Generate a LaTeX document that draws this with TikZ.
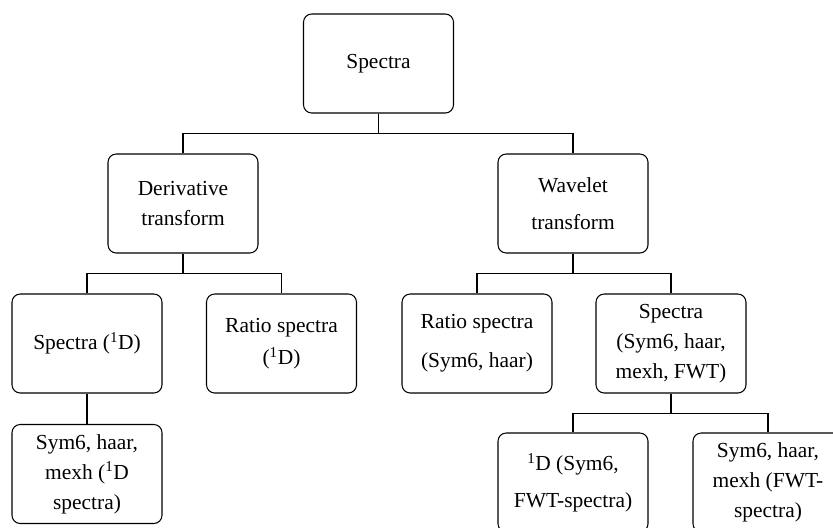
\documentclass[tikz,border=0pt]{standalone}
\usepackage{fontspec}
\setmainfont{Liberation Serif}

\begin{document}
\begin{tikzpicture}[font=\fontsize{18.3}{25.5}\selectfont,line width=0.9pt]
  \tikzset{
    box/.style={
      draw,
      rounded corners=7pt,
      align=center,
      inner sep=2pt,
      minimum width=4.5cm,
      minimum height=2.97cm
    }
  }
  \useasboundingbox (0,0) rectangle (24.99,-15.81);
  \clip (0,0) rectangle (24.99,-15.81);

  \node[box] (root) at (11.355,-1.905) {Spectra};

  \node[box] (deriv) at (5.49,-6.105) {Derivative\\transform};
  \node[box] (wave) at (17.19,-6.105) {Wavelet\\[6pt]transform};

  \node[box] (spec1d) at (2.61,-10.305) {Spectra (\textsuperscript{1}D)};
  \node[box] (ratio1d) at (8.445,-10.305) {Ratio spectra\\[2pt](\textsuperscript{1}D)};
  \node[box] (ratiosym) at (14.31,-10.305) {Ratio spectra\\[8pt](Sym6, haar)};
  \node[box] (specsym) at (20.13,-10.305) {Spectra\\(Sym6, haar,\\mexh, FWT)};

  \node[box] (symspec) at (2.61,-14.22) {Sym6, haar,\\mexh (\textsuperscript{1}D\\spectra)};
  \node[box] (dsym) at (17.19,-14.475) {\textsuperscript{1}D (Sym6,\\[6pt]FWT-spectra)};
  \node[box] (symfwt) at (23.04,-14.475) {Sym6, haar,\\mexh (FWT-\\spectra)};

  \draw (root.south) -- ++(0,-0.6) -| (deriv.north);
  \draw (root.south) -- ++(0,-0.6) -| (wave.north);
  \draw (deriv.south) -- ++(0,-0.6) -| (spec1d.north);
  \draw (deriv.south) -- ++(0,-0.6) -| (ratio1d.north);
  \draw (wave.south) -- ++(0,-0.6) -| (ratiosym.north);
  \draw (wave.south) -- ++(0,-0.6) -| (specsym.north);
  \draw (spec1d.south) -- (symspec.north);
  \draw (specsym.south) -- ++(0,-0.6) -| (dsym.north);
  \draw (specsym.south) -- ++(0,-0.6) -| (symfwt.north);
\end{tikzpicture}
\end{document}
